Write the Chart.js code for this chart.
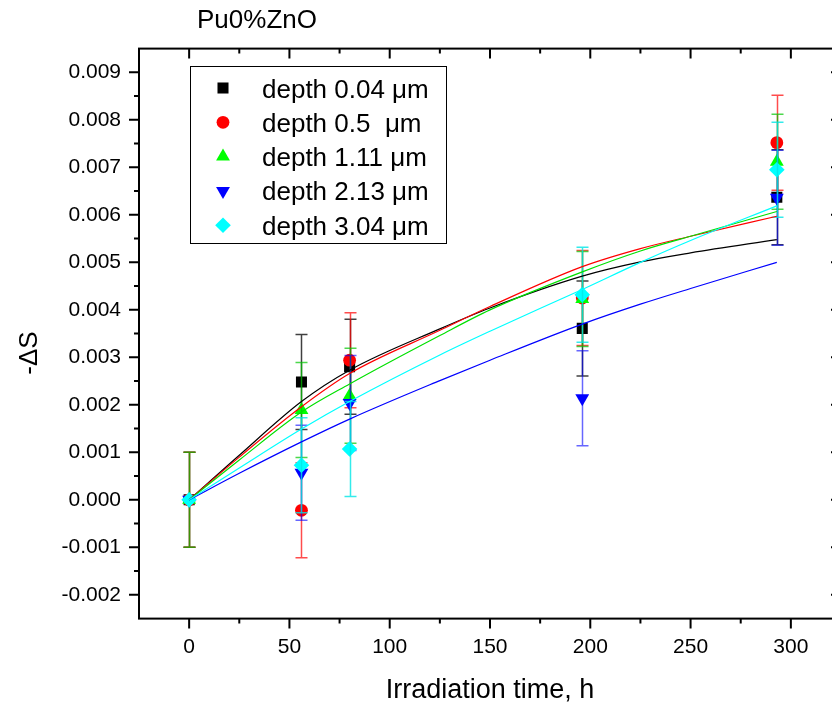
<!DOCTYPE html>
<html>
<head>
<meta charset="utf-8">
<script src="https://cdn.jsdelivr.net/npm/chart.js@4"></script>
<style>
  html, body { margin: 0; padding: 0; background: #fff; overflow: hidden; }
  #wrap { width: 850px; height: 704px; }
</style>
</head>
<body>
<div id="wrap"><canvas id="chart" width="850" height="704"></canvas></div>
<script>
// ---- data ----
const times = [0, 56, 80, 196, 293];

const depth004 = [0, 0.00248, 0.00280, 0.00361, 0.00637];
const depth05  = [0, -0.00022, 0.00294, 0.00425, 0.00752];
const depth111 = [0, 0.00189, 0.00219, 0.00423, 0.00712];
const depth213 = [0, 0.00057, 0.00204, 0.00214, 0.00636];
const depth304 = [0, 0.00073, 0.00107, 0.00432, 0.00695];

const err004 = [0.001, 0.001, 0.001, 0.001, 0.001];
const err05  = [0.001, 0.001, 0.001, 0.001, 0.001];
const err111 = [0.001, 0.001, 0.001, 0.001, 0.001];
const err213 = [0, 0.001, 0.001, 0.001, 0.001];
const err304 = [0, 0.001, 0.001, 0.001, 0.001];

// fitted curves
const fitTimes = [0, 25, 56, 80, 125, 150, 196, 225, 250, 293];
const fit004 = [0, 0.00094, 0.00207, 0.00273, 0.00360, 0.00404, 0.00471, 0.00501, 0.00520, 0.00548];
const fit05  = [0, 0.00090, 0.00196, 0.00266, 0.00357, 0.00407, 0.00491, 0.00529, 0.00555, 0.00597];
const fit111 = [0, 0.00084, 0.00185, 0.00244, 0.00346, 0.00400, 0.00480, 0.00524, 0.00555, 0.00607];
const fit213 = [0, 0.00056, 0.00122, 0.00170, 0.00251, 0.00294, 0.00370, 0.00412, 0.00445, 0.00500];
const fit304 = [0, 0.00067, 0.00149, 0.00207, 0.00305, 0.00355, 0.00443, 0.00500, 0.00546, 0.00619];

const xTicks = [0, 50, 100, 150, 200, 250, 300];
const xMinor = [25, 75, 125, 175, 225, 275];
const yTicks = [-0.002, -0.001, 0, 0.001, 0.002, 0.003, 0.004, 0.005, 0.006, 0.007, 0.008, 0.009];
const yMinor = [-0.0015, -0.0005, 0.0005, 0.0015, 0.0025, 0.0035, 0.0045, 0.0055, 0.0065, 0.0075, 0.0085];

const labels = ['depth 0.04 \u03BCm', 'depth 0.5  \u03BCm', 'depth 1.11 \u03BCm', 'depth 2.13 \u03BCm', 'depth 3.04 \u03BCm'];

const FONT = "'Liberation Sans', Arial, Helvetica, sans-serif";

const pts = ys => times.map((t, i) => ({x: t, y: ys[i]}));
const fitPts = ys => fitTimes.map((t, i) => ({x: t, y: ys[i]}));

function scatterSet(i, ys, errs, color, barColor, style, radius, rotation) {
    return {
        type: 'scatter', label: labels[i], data: pts(ys), errors: errs, barColor: barColor,
        pointStyle: style, pointRadius: radius, pointRotation: rotation || 0,
        backgroundColor: color, borderColor: color, borderWidth: 0, showLine: false,
        order: 10 - i
    };
}

function fitSet(ys, color, order) {
    return {
        type: 'line', data: fitPts(ys), borderColor: color, borderWidth: 1.2,
        pointRadius: 0, fill: false, cubicInterpolationMode: 'monotone', order: order
    };
}

const datasets = [
    scatterSet(0, depth004, err004, '#000000', 'rgba(0,0,0,0.75)', 'rect', 7.8),
    scatterSet(1, depth05, err05, '#ff0000', 'rgba(255,0,0,0.7)', 'circle', 6.4),
    scatterSet(2, depth111, err111, '#00ff00', 'rgba(0,200,0,0.7)', 'triangle', 8),
    scatterSet(3, depth213, err213, '#0000ff', 'rgba(0,0,255,0.6)', 'triangle', 8, 180),
    scatterSet(4, depth304, err304, '#00ffff', 'rgba(0,230,230,0.8)', 'rectRot', 7.8),
    fitSet(fit004, '#000000', 5),
    fitSet(fit05, '#ff0000', 4),
    fitSet(fit111, '#00e000', 3),
    fitSet(fit213, '#0000ff', 2),
    fitSet(fit304, '#00ffff', 1)
];

// ---- error bars, frame with ticks on four sides, legend and titles ----
const origin = {
    id: 'origin',
    afterDatasetDraw(chart, args) {
        const ds = chart.data.datasets[args.index];
        if (!ds.errors) return;
        const {ctx, scales: {x, y}} = chart;
        ctx.save();
        ctx.strokeStyle = ds.barColor;
        ctx.lineWidth = 1.5;
        ds.data.forEach((p, i) => {
            if (!ds.errors[i]) return;
            const px = Math.round(x.getPixelForValue(p.x)) + 0.5;
            const top = y.getPixelForValue(p.y + ds.errors[i]);
            const bot = y.getPixelForValue(p.y - ds.errors[i]);
            ctx.beginPath();
            ctx.moveTo(px, top); ctx.lineTo(px, bot);
            ctx.moveTo(px - 6, top); ctx.lineTo(px + 6, top);
            ctx.moveTo(px - 6, bot); ctx.lineTo(px + 6, bot);
            ctx.stroke();
        });
        ctx.restore();
    },
    afterDraw(chart) {
        const {ctx, chartArea: a, scales: {x, y}} = chart;
        ctx.save();
        ctx.strokeStyle = '#000';
        ctx.lineWidth = 2;
        ctx.strokeRect(a.left, a.top, a.right - a.left, a.bottom - a.top);

        const tick = (x1, y1, x2, y2) => { ctx.moveTo(x1, y1); ctx.lineTo(x2, y2); };
        ctx.beginPath();
        xTicks.forEach(v => {
            const px = x.getPixelForValue(v);
            tick(px, a.bottom, px, a.bottom + 10);
            tick(px, a.top, px, a.top + 10);
        });
        xMinor.forEach(v => {
            const px = x.getPixelForValue(v);
            tick(px, a.bottom, px, a.bottom + 5);
            tick(px, a.top, px, a.top + 5);
        });
        yTicks.forEach(v => {
            const py = y.getPixelForValue(v);
            tick(a.left, py, a.left - 10, py);
            tick(a.right, py, a.right - 10, py);
        });
        yMinor.forEach(v => {
            const py = y.getPixelForValue(v);
            tick(a.left, py, a.left - 5, py);
            tick(a.right, py, a.right - 5, py);
        });
        ctx.stroke();

        // legend box
        const lx = 190.5, ly = 66.5, lw = 256, lh = 177;
        ctx.fillStyle = '#fff';
        ctx.fillRect(lx, ly, lw, lh);
        ctx.lineWidth = 1;
        ctx.strokeRect(lx, ly, lw, lh);
        ctx.font = '26px ' + FONT;
        ctx.textAlign = 'left';
        ctx.textBaseline = 'alphabetic';
        for (let i = 0; i < 5; i++) {
            const ds = chart.data.datasets[i];
            const ry = 88 + i * 34.3;
            ctx.fillStyle = ds.backgroundColor;
            ctx.strokeStyle = ds.backgroundColor;
            Chart.helpers.drawPoint(ctx, {pointStyle: ds.pointStyle, radius: ds.pointRadius, rotation: ds.pointRotation, borderWidth: 0}, 223, ry);
            ctx.fillStyle = '#000';
            ctx.fillText(ds.label, 262, ry + 9.5);
        }

        // titles
        ctx.fillStyle = '#000';
        ctx.font = '26px ' + FONT;
        ctx.fillText('Pu0%ZnO', 197, 28);
        ctx.textAlign = 'center';
        ctx.font = '27px ' + FONT;
        ctx.fillText('Irradiation time, h', 490, 698);
        ctx.font = '26px ' + FONT;
        ctx.translate(37, 353);
        ctx.rotate(-Math.PI / 2);
        ctx.fillText('-\u0394S', 0, 0);
        ctx.restore();
    }
};

Chart.defaults.font.family = FONT;
Chart.defaults.color = '#000';

new Chart(document.getElementById('chart'), {
    data: {datasets: datasets},
    options: {
        responsive: false,
        animation: false,
        devicePixelRatio: 1,
        layout: {padding: {top: 48.6, right: 9, left: 0, bottom: 0}},
        plugins: {legend: {display: false}, tooltip: {enabled: false}},
        scales: {
            x: {
                type: 'linear', min: -25, max: 325,
                afterBuildTicks: s => { s.ticks = xTicks.map(v => ({value: v})); },
                afterFit: s => { s.height = 85.4; },
                grid: {display: false, drawTicks: false},
                border: {display: false},
                ticks: {padding: 16, font: {size: 21}, color: '#000', maxRotation: 0, autoSkip: false,
                        callback: v => String(v)}
            },
            y: {
                type: 'linear', min: -0.0025, max: 0.0095,
                afterBuildTicks: s => { s.ticks = yTicks.map(v => ({value: v})); },
                afterFit: s => { s.width = 139; },
                grid: {display: false, drawTicks: false},
                border: {display: false},
                ticks: {padding: 18, font: {size: 21}, color: '#000', autoSkip: false,
                        callback: v => v.toFixed(3)}
            }
        }
    },
    plugins: [origin]
});
</script>
</body>
</html>
